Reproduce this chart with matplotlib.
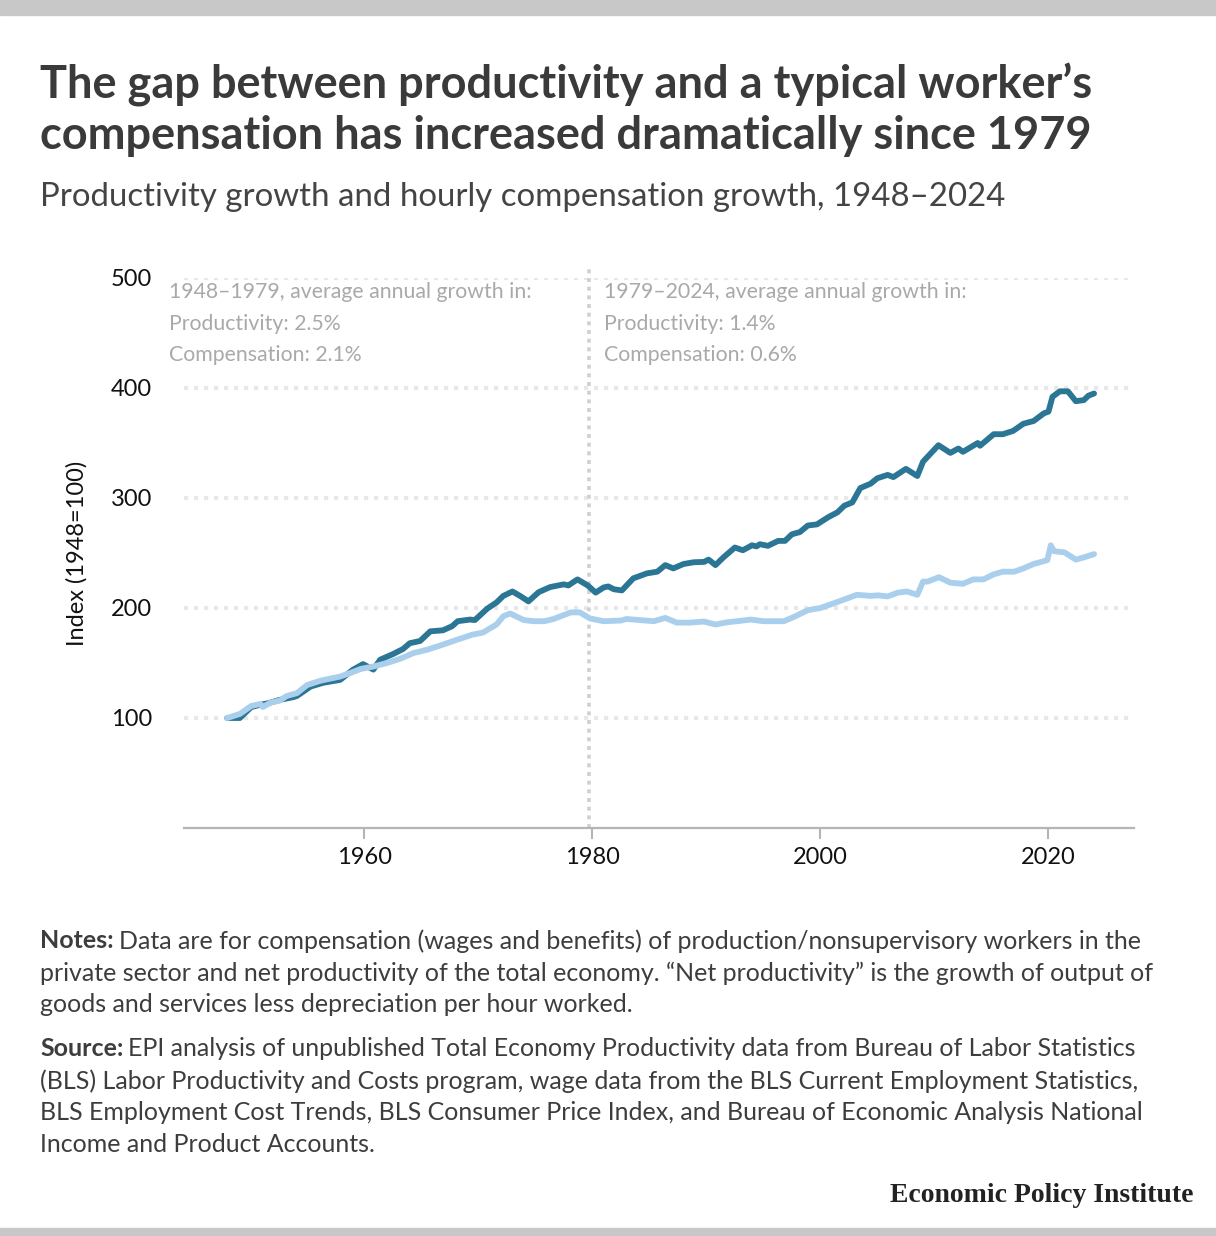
import matplotlib
matplotlib.use("Agg")
import matplotlib.pyplot as plt

plt.rcParams['font.family'] = ['Lato', 'DejaVu Sans']

# ---------------- data ----------------
prod_years = [1948.0, 1949.1, 1950.1, 1950.9, 1951.6, 1952.6, 1953.8, 1954.1, 1955.3, 1956.4,
              1957.9, 1959.0, 1959.9, 1960.8, 1961.4, 1962.5, 1963.4, 1964.0, 1964.9, 1965.8,
              1966.9, 1967.7, 1968.2, 1969.3, 1969.7, 1970.8, 1971.6, 1972.2, 1973.0, 1973.7,
              1974.4, 1975.3, 1976.3, 1977.5, 1977.9, 1978.7, 1979.6, 1980.3, 1981.0, 1981.4,
              1981.9, 1982.6, 1983.6, 1984.8, 1985.7, 1986.4, 1987.1, 1988.0, 1988.9, 1989.8,
              1990.2, 1990.8, 1991.5, 1992.5, 1993.2, 1994.0, 1994.4, 1994.7, 1995.4, 1996.3,
              1996.9, 1997.5, 1998.2, 1998.9, 1999.7, 2000.0, 2000.7, 2001.5, 2002.1, 2002.8,
              2003.5, 2004.4, 2005.0, 2005.9, 2006.4, 2007.5, 2008.5, 2009.0, 2010.35, 2011.4,
              2012.1, 2012.5, 2013.8, 2014.0, 2015.2, 2016.0, 2016.9, 2017.8, 2018.7, 2019.6,
              2020.0, 2020.35, 2021.0, 2021.7, 2022.4, 2023.1, 2023.5, 2024.0]
prod_values = [100, 100, 110, 112, 113.5, 116.5, 119, 120, 128.6, 132,
               134.7, 143.8, 149, 144, 153, 158, 162.7, 168, 170, 178.8,
               179.7, 183.4, 188, 189.5, 189, 199.5, 205, 211, 215, 210.8,
               206, 214.4, 219, 221.5, 220.5, 226, 220.5, 214, 218.7, 219.6,
               217, 216, 227, 231.5, 233, 239, 236, 240, 241.6, 241.9,
               244, 239, 246, 255, 252.5, 257, 256, 258, 256.5, 261,
               261, 267, 269, 275, 276, 278, 282.6, 287, 293, 296,
               309, 313, 318, 321, 319, 326.5, 320, 333, 348, 341,
               345, 342, 350, 347.5, 358, 358, 361, 367.5, 370, 377,
               378.5, 392, 397, 397, 388, 389, 393, 395]

comp_years = [1948.0, 1949.1, 1950.1, 1950.9, 1951.1, 1951.8, 1952.6, 1953.2, 1954.1, 1955.0,
              1956.2, 1957.9, 1958.8, 1959.7, 1960.8, 1962.0, 1963.2, 1964.3, 1965.5, 1966.9,
              1968.1, 1969.5, 1970.4, 1971.6, 1972.2, 1972.8, 1974.0, 1974.9, 1975.8, 1976.6,
              1978.1, 1978.9, 1979.8, 1981.0, 1982.5, 1983.0, 1985.4, 1986.4, 1987.4, 1988.6,
              1989.8, 1990.8, 1991.8, 1992.7, 1993.9, 1995.0, 1996.8, 1997.7, 1998.9, 2000.0,
              2001.1, 2002.1, 2003.2, 2004.4, 2005.1, 2005.9, 2006.8, 2007.6, 2008.5, 2009.0,
              2009.4, 2010.4, 2011.4, 2012.5, 2013.4, 2014.3, 2015.2, 2016.0, 2017.0, 2017.8,
              2018.7, 2019.9, 2020.2, 2020.5, 2021.4, 2022.4, 2023.1, 2024.0]
comp_values = [100, 103.7, 111, 112.8, 110, 114, 115.8, 120, 122.6, 130,
               134, 137.7, 141, 144.6, 146.8, 150, 154, 159, 162, 166.7,
               171, 175.8, 177.6, 185, 192.5, 195, 189, 188, 188, 190,
               196, 196, 190.5, 188, 188.6, 190, 188, 191, 186.7, 186.7,
               187.7, 185, 187, 188, 189.5, 188, 188, 192, 198, 200,
               204, 207.8, 212, 211, 211.5, 210.5, 214, 215, 212, 224,
               224, 228, 223, 222, 226, 226, 230.6, 233, 233, 236,
               240, 243.5, 257, 251.6, 250.6, 244, 246, 249]

y_ticks = [100, 200, 300, 400, 500]
x_ticks = [1960, 1980, 2000, 2020]
divider_year = 1979.75

title = "The gap between productivity and a typical worker\u2019s\ncompensation has increased dramatically since 1979"
subtitle = "Productivity growth and hourly compensation growth, 1948\u20132024"
left_note = ["1948\u20131979, average annual growth in:", "Productivity: 2.5%", "Compensation: 2.1%"]
right_note = ["1979\u20132024, average annual growth in:", "Productivity: 1.4%", "Compensation: 0.6%"]

DARK = "#2c7695"
LIGHT = "#a9cfed"

W, H = 1216, 1236
fig = plt.figure(figsize=(W / 100, H / 100), dpi=100)
fig.patch.set_facecolor("white")

def fx(px):
    return px / W

def fy(py):
    return 1 - py / H

# grey bars top and bottom
fig.patches.append(plt.Rectangle((0, fy(15)), 1, 15 / H, transform=fig.transFigure,
                                 color="#c8c8c8", zorder=0))
fig.patches.append(plt.Rectangle((0, 0), 1, 8 / H, transform=fig.transFigure,
                                 color="#c8c8c8", zorder=0))

ax = fig.add_axes([fx(184), fy(828), fx(1134) - fx(184), fy(278) - fy(828)])
ax.set_xlim(1944.2, 2027.5)
ax.set_ylim(0, 500)

for t in y_ticks:
    ax.axhline(t, color="#e8e8e8", lw=3, linestyle=(0, (1.0, 1.4)), zorder=1,
               dash_capstyle="butt")
ax.plot([divider_year, divider_year], [0, 510], color="#d0d0d0", lw=2.6,
        linestyle=(0, (1.1, 1.3)), zorder=1, clip_on=False)

ax.plot(prod_years, prod_values, color=DARK, lw=4.2, solid_joinstyle="round",
        solid_capstyle="round", zorder=3)
ax.plot(comp_years, comp_values, color=LIGHT, lw=4.2, solid_joinstyle="round",
        solid_capstyle="round", zorder=4)

for s in ["top", "right", "left"]:
    ax.spines[s].set_visible(False)
ax.spines["bottom"].set_color("#b5b5b5")
ax.spines["bottom"].set_linewidth(1.6)
ax.set_xticks(x_ticks)
ax.set_xticklabels([str(x) for x in x_ticks])
ax.set_yticks(y_ticks)
ax.set_yticklabels([str(y) for y in y_ticks])
ax.tick_params(axis="x", length=8, width=1.5, color="#b5b5b5", labelsize=17,
               labelcolor="#111111", pad=6)
ax.tick_params(axis="y", length=0, labelsize=17, labelcolor="#111111", pad=23)
ax.set_ylabel("Index (1948=100)", fontsize=17, color="#111111")
ax.yaxis.set_label_coords((88 - 184) / 950, (828 - 553) / 550)

# annotation blocks
for i, line in enumerate(left_note):
    fig.text(fx(169), fy(292 + 31.5 * i), line, fontsize=15.3, color="#a9a9a9",
             va="center", ha="left")
for i, line in enumerate(right_note):
    fig.text(fx(604), fy(292 + 31.5 * i), line, fontsize=15.3, color="#a9a9a9",
             va="center", ha="left")

# titles
fig.text(fx(40), fy(110), title, fontsize=32.5, fontweight="bold", color="#3a3a3a",
         va="center", ha="left", linespacing=1.22)
fig.text(fx(40), fy(197), subtitle, fontsize=23.8, color="#444444", va="center", ha="left")

# notes
notes_lines = [
    "Data are for compensation (wages and benefits) of production/nonsupervisory workers in the",
    "private sector and net productivity of the total economy. \u201cNet productivity\u201d is the growth of output of",
    "goods and services less depreciation per hour worked.",
]
source_lines = [
    "EPI analysis of unpublished Total Economy Productivity data from Bureau of Labor Statistics",
    "(BLS) Labor Productivity and Costs program, wage data from the BLS Current Employment Statistics,",
    "BLS Employment Cost Trends, BLS Consumer Price Index, and Bureau of Economic Analysis National",
    "Income and Product Accounts.",
]
NOTE_FS = 18
NOTE_C = "#3d3d3d"
LS = 32

def write_block(label, lines, y0):
    t = fig.text(fx(40), fy(y0), label, fontsize=NOTE_FS, fontweight="bold", color=NOTE_C,
                 va="center", ha="left")
    fig.canvas.draw()
    bb = t.get_window_extent()
    fig.text(bb.x1 / W + 5 / W, fy(y0), lines[0], fontsize=NOTE_FS, color=NOTE_C,
             va="center", ha="left")
    for i, line in enumerate(lines[1:], start=1):
        fig.text(fx(40), fy(y0 + LS * i), line, fontsize=NOTE_FS, color=NOTE_C,
                 va="center", ha="left")

write_block("Notes:", notes_lines, 941)
write_block("Source:", source_lines, 1049)

fig.text(fx(1193), fy(1195), "Economic Policy Institute", fontsize=20, fontweight="bold",
         family=["Liberation Serif", "DejaVu Serif"], color="#222222", va="center", ha="right")

fig.savefig("out.png", dpi=100, facecolor="white")
